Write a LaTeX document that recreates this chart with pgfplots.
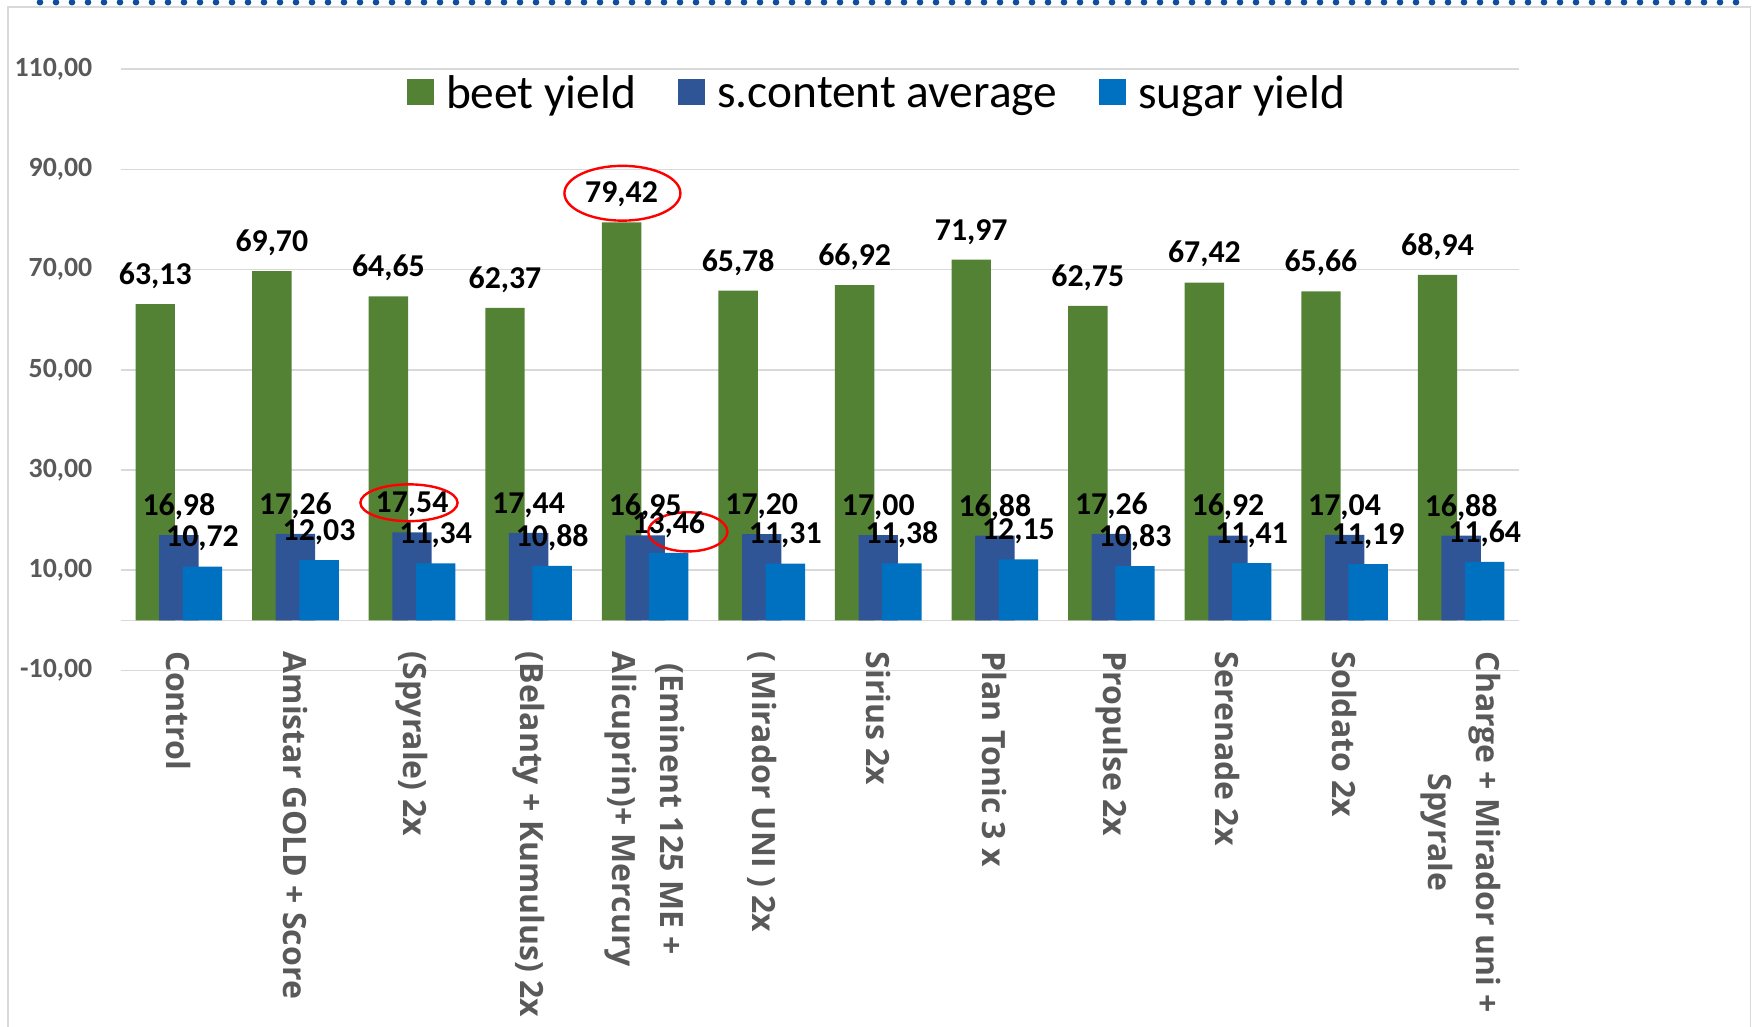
\documentclass[border=0pt]{standalone}
\usepackage{fontspec}
\setmainfont{Carlito}
\newfontfamily\osans{Open Sans}
\usepackage{pgfplots}
\pgfplotsset{compat=1.18}
\definecolor{beet}{HTML}{548235}
\definecolor{scont}{HTML}{2F5597}
\definecolor{sugar}{HTML}{0070C0}
\definecolor{tickgray}{HTML}{595959}
\definecolor{gridgray}{HTML}{D9D9D9}
\definecolor{dotblue}{HTML}{0F4C9A}
\begin{document}
\begin{tikzpicture}
\useasboundingbox (-60.3pt,-178.3pt) rectangle (815.7pt,335.2pt);
\draw[gridgray, line width=0.85pt] (-56.3pt,-185pt) -- (-56.3pt,331.8pt) -- (815pt,331.8pt) -- (815pt,-185pt);
\draw[dotblue, line width=3.3pt, line cap=round, dash pattern=on 0pt off 8pt] (-40.3pt,334.1pt) -- (811pt,334.1pt);
\begin{axis}[
  at={(0,0)}, anchor=south west, scale only axis,
  width=699.4pt, height=300.6pt,
  xmin=-0.5, xmax=11.5, ymin=-10, ymax=110,
  axis x line*=middle, axis y line*=left,
  x axis line style={draw=gridgray, line width=0.75pt},
  y axis line style={draw=none},
  ytick={-10,10,30,50,70,90,110},
  ymajorgrids, grid style={draw=gridgray, line width=0.75pt},
  major tick length=0pt,
  xtick={0,...,11},
  xticklabels={Control, Amistar GOLD + Score, (Spyrale) 2x, (Belanty + Kumulus) 2x, {(Eminent 125 ME +\\Alicuprin)+ Mercury}, ( Mirador UNI ) 2x, Sirius 2x, Plan Tonic 3 x, Propulse 2x, Serenade 2x, Soldato 2x, {Charge + Mirador uni +\\Spyrale}},
  xticklabel style={rotate=-90, anchor=west, align=center, inner sep=0pt, font=\osans\bfseries\fontsize{16}{24}\selectfont, text=tickgray},
  xticklabel shift=15.5pt,
  yticklabel style={anchor=east, inner sep=0pt, xshift=-14pt, font=\fontsize{13.9}{16}\selectfont\bfseries, text=tickgray},
  /pgf/number format/fixed, /pgf/number format/fixed zerofill, /pgf/number format/precision=2,
  /pgf/number format/use comma, /pgf/number format/1000 sep={}, /pgf/number format/assume math mode=true,
  ybar=-7.9pt, bar width=19.7pt,
  nodes near coords,
  nodes near coords style={anchor=south, inner sep=0pt, yshift=7.5pt, font=\fontsize{15.9}{18}\selectfont\bfseries, text=black},
  legend columns=-1,
  legend style={at={(0.54,0.959)}, anchor=center, draw=none, fill=none, font=\fontsize{23.7}{28}\selectfont, nodes={inner sep=0pt}, /tikz/every odd column/.append style={column sep=6.3pt}, /tikz/every even column/.append style={column sep=21pt}},
  legend image code/.code={\fill[#1] (0pt,-5.8pt) rectangle (13.3pt,7.5pt);},
  clip=false,
]
\addplot[fill=beet, draw=none] coordinates {(0,63.13) (1,69.70) (2,64.65) (3,62.37) (4,79.42) (5,65.78) (6,66.92) (7,71.97) (8,62.75) (9,67.42) (10,65.66) (11,68.94)};
\addplot[fill=scont, draw=none] coordinates {(0,16.98) (1,17.26) (2,17.54) (3,17.44) (4,16.95) (5,17.20) (6,17.00) (7,16.88) (8,17.26) (9,16.92) (10,17.04) (11,16.88)};
\addplot[fill=sugar, draw=none] coordinates {(0,10.72) (1,12.03) (2,11.34) (3,10.88) (4,13.46) (5,11.31) (6,11.38) (7,12.15) (8,10.83) (9,11.41) (10,11.19) (11,11.64)};
\legend{beet yield, s.content average, sugar yield}
\draw[red, line width=1.2pt] (axis cs:3.805,85.24) ellipse [x radius=29pt, y radius=13.7pt];
\draw[red, line width=1.2pt] (axis cs:1.974,23.46) ellipse [x radius=24.3pt, y radius=9.2pt];
\draw[red, line width=1.2pt] (axis cs:4.366,17.66) ellipse [x radius=19.8pt, y radius=9.8pt];
\end{axis}
\end{tikzpicture}
\end{document}
